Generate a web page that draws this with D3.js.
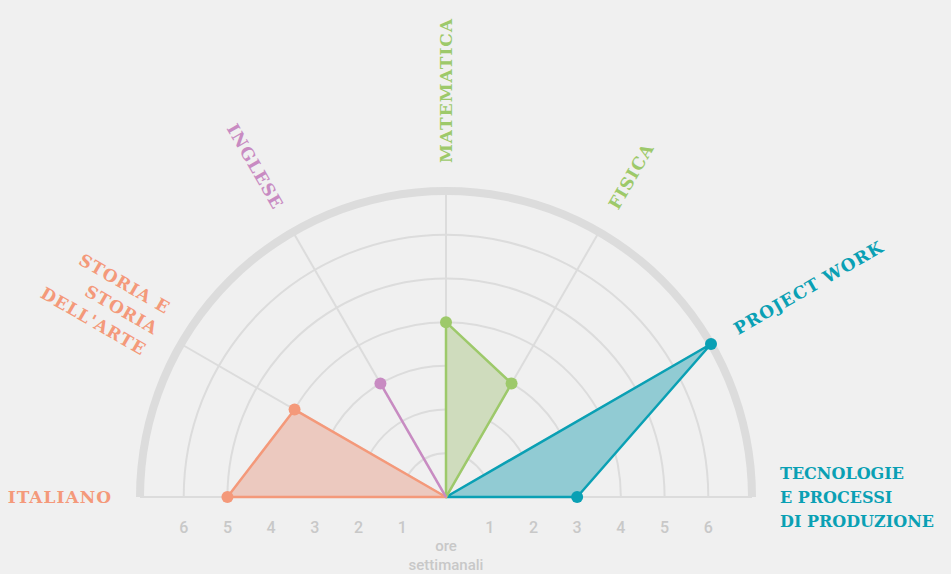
<!DOCTYPE html>
<html>
<head>
<meta charset="utf-8">
<script src="https://cdn.jsdelivr.net/npm/d3@7"></script>
<style>
  body { margin: 0; background: #f0f0f0; }
  svg { display: block; }
  .lbl { font-family: "DejaVu Serif", serif; font-weight: bold; font-size: 17px; letter-spacing: 1px; }
  .lbl.tight { font-size: 16px; letter-spacing: 0; }
  .tick { font-family: Roboto, sans-serif; font-weight: 500; font-size: 16px; fill: #c8c8c8; }
</style>
</head>
<body>
<script>
// subjects, from left (180deg) to right (0deg)
var subjects = [
  ["ITALIANO"],
  ["STORIA E", "STORIA", "DELL'ARTE"],
  ["INGLESE"],
  ["MATEMATICA"],
  ["FISICA"],
  ["PROJECT WORK"],
  ["TECNOLOGIE", "E PROCESSI", "DI PRODUZIONE"]
];
var hours = [5, 4, 3, 4, 3, 7, 3];
var subjectColors = ["#f4997a", "#f4997a", "#c88bc2", "#9dc96a", "#9dc96a", "#0aa0b4", "#0aa0b4"];
// subjects that share a shape
var groups = [[5, 6], [3, 4], [0, 1], [2]];
var groupFill = ["#91cbd3", "#cfdcbd", "#ecc9bf", "none"];
var rings = [1, 2, 3, 4, 5, 6];
var tickLabels = [1, 2, 3, 4, 5, 6];

var width = 951, height = 574;
var cx = 446, cy = 497;

var svg = d3.select("body").append("svg").attr("width", width).attr("height", height);
var g = svg.append("g").attr("transform", "translate(" + cx + "," + cy + ")");

var r = d3.scaleLinear().domain([0, 7]).range([0, 306]);
var ang = d3.scaleLinear().domain([0, subjects.length - 1]).range([-Math.PI / 2, Math.PI / 2]);

// grid rings
rings.forEach(function(d) {
  g.append("path")
    .attr("d", d3.arc().innerRadius(r(d)).outerRadius(r(d)).startAngle(-Math.PI / 2).endAngle(Math.PI / 2)())
    .attr("fill", "none")
    .attr("stroke", "#dcdcdc")
    .attr("stroke-width", 2);
});

// spokes
subjects.forEach(function(s, i) {
  var a = ang(i);
  g.append("line")
    .attr("x1", 0).attr("y1", 0)
    .attr("x2", r(7) * Math.sin(a))
    .attr("y2", -r(7) * Math.cos(a))
    .attr("stroke", "#dcdcdc")
    .attr("stroke-width", 2);
});

// outer thick arc
g.append("path")
  .attr("d", d3.arc().innerRadius(r(7) - 4).outerRadius(r(7) + 4).startAngle(-Math.PI / 2).endAngle(Math.PI / 2)())
  .attr("fill", "#dcdcdc");

// shapes
var radial = d3.lineRadial().angle(function(d) { return d[0]; }).radius(function(d) { return d[1]; });
groups.forEach(function(grp, k) {
  var pts = [[0, 0]].concat(grp.map(function(i) { return [ang(i), r(hours[i])]; }));
  g.append("path")
    .attr("d", radial(pts) + (grp.length > 1 ? "Z" : ""))
    .attr("fill", groupFill[k])
    .attr("stroke", subjectColors[grp[0]])
    .attr("stroke-width", 2.5)
    .attr("stroke-linejoin", "round");
});

// dots
hours.forEach(function(h, i) {
  var a = ang(i);
  g.append("circle")
    .attr("cx", r(h) * Math.sin(a))
    .attr("cy", -r(h) * Math.cos(a))
    .attr("r", 6)
    .attr("fill", subjectColors[i]);
});

// subject labels
var R = 334, lineH = 24;
subjects.forEach(function(lines, i) {
  var a = ang(i);
  var deg = a * 180 / Math.PI; // -90 .. 90
  var left = deg < 0;
  var rot = left ? deg + 90 : deg - 90;
  var x = R * Math.sin(a), y = -R * Math.cos(a);
  var t = g.append("text")
    .attr("class", "lbl" + (i === subjects.length - 1 ? " tight" : ""))
    .attr("fill", subjectColors[i])
    .attr("text-anchor", left ? "end" : "start")
    .attr("transform", "translate(" + x + "," + y + ") rotate(" + rot + ")");
  lines.forEach(function(l, j) {
    t.append("tspan")
      .attr("x", 0)
      .attr("y", (j - (lines.length - 1) / 2) * lineH + 6)
      .text(l);
  });
});

// tick labels
tickLabels.forEach(function(d) {
  [-1, 1].forEach(function(side) {
    g.append("text")
      .attr("class", "tick")
      .attr("x", side * r(d))
      .attr("y", 36)
      .attr("text-anchor", "middle")
      .text(d);
  });
});
g.append("text").attr("class", "tick").attr("text-anchor", "middle")
  .attr("x", 0).attr("y", 54).style("font-size", "15px").text("ore");
g.append("text").attr("class", "tick").attr("text-anchor", "middle")
  .attr("x", 0).attr("y", 73).style("font-size", "15px").text("settimanali");
</script>
</body>
</html>
